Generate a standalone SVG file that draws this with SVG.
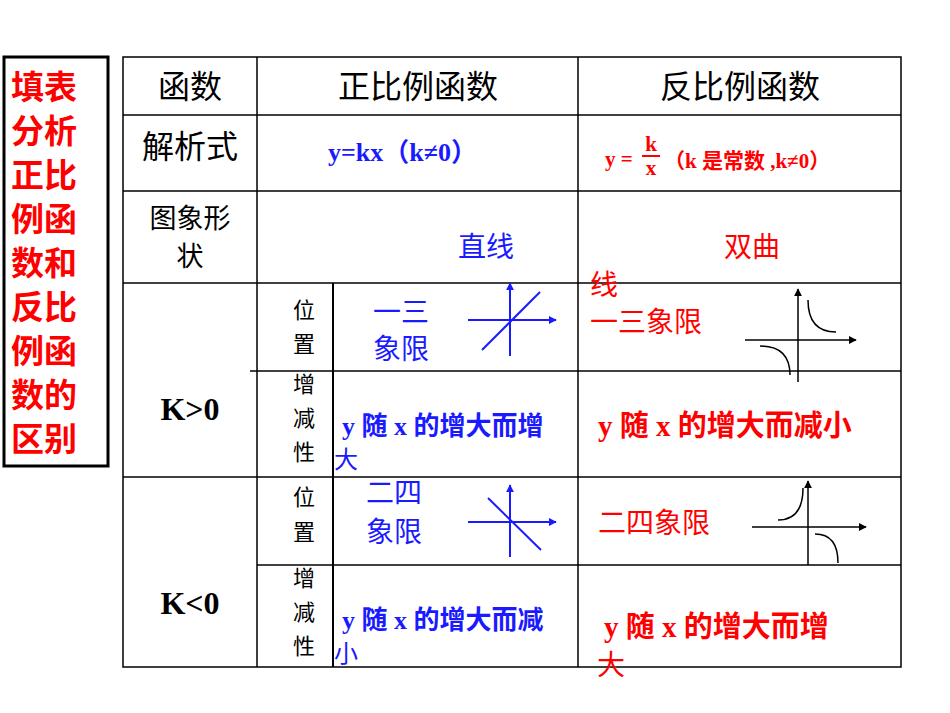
<svg xmlns="http://www.w3.org/2000/svg" width="950" height="713" viewBox="0 0 950 713">
<style>
.g{stroke:#000;stroke-width:1.5;fill:none}
.t{font-family:"Liberation Serif","Noto Sans CJK SC",serif;font-weight:bold}
.c{font-family:"Noto Sans CJK SC",sans-serif}
.r{fill:#f00}.b{fill:#1a1aff}
.bl{stroke:#1a1aff;stroke-width:2;fill:none}
.k{stroke:#000;stroke-width:1.5;fill:none}
</style>
<defs>
<marker id="ab" viewBox="0 0 10 10" refX="9" refY="5" markerWidth="8" markerHeight="8" markerUnits="userSpaceOnUse" orient="auto"><path d="M0,0L10,5L0,10z" fill="#1a1aff"/></marker>
<marker id="ak" viewBox="0 0 10 10" refX="9" refY="5" markerWidth="8" markerHeight="8" markerUnits="userSpaceOnUse" orient="auto"><path d="M0,0L10,5L0,10z" fill="#000"/></marker>
</defs>
<rect width="950" height="713" fill="#fff"/>
<g id="side">
<rect x="4" y="57" width="104" height="409" fill="none" stroke="#000" stroke-width="3"/>
<g class="c r" font-size="33" font-weight="bold">
<text x="11" y="99">填表</text>
<text x="11" y="143">分析</text>
<text x="11" y="187">正比</text>
<text x="11" y="231">例函</text>
<text x="11" y="275">数和</text>
<text x="11" y="319">反比</text>
<text x="11" y="363">例函</text>
<text x="11" y="407">数的</text>
<text x="11" y="451">区别</text>
</g>
</g>
<g id="grid" class="g">
<rect x="123" y="57" width="778" height="610"/>
<line x1="123" y1="115" x2="901" y2="115"/>
<line x1="123" y1="191" x2="901" y2="191"/>
<line x1="123" y1="283" x2="901" y2="283"/>
<line x1="123" y1="477" x2="901" y2="477"/>
<line x1="250" y1="371" x2="901" y2="371"/>
<line x1="257" y1="565" x2="901" y2="565"/>
<line x1="257" y1="57" x2="257" y2="667"/>
<line x1="578" y1="57" x2="578" y2="667"/>
<line x1="333" y1="283" x2="333" y2="667" stroke-width="2"/>
</g>
<g id="headers">
<text class="c" font-size="32" x="190" y="98" text-anchor="middle">函数</text>
<text class="c" font-size="32" x="418" y="98" text-anchor="middle">正比例函数</text>
<text class="c" font-size="32" x="740" y="98" text-anchor="middle">反比例函数</text>
<text class="c" font-size="32" x="190" y="158" text-anchor="middle">解析式</text>
<text class="c" font-size="27" x="190" y="228" text-anchor="middle">图象形</text>
<text class="c" font-size="27" x="190" y="266" text-anchor="middle">状</text>
<text class="t" font-size="32" x="190" y="420" text-anchor="middle">K&gt;0</text>
<text class="t" font-size="32" x="190" y="614" text-anchor="middle">K&lt;0</text>
<g class="c" font-size="22" text-anchor="middle">
<text x="304" y="318">位</text><text x="304" y="352">置</text>
<text x="304" y="392">增</text><text x="304" y="426">减</text><text x="304" y="460">性</text>
<text x="304" y="505">位</text><text x="304" y="540">置</text>
<text x="304" y="586">增</text><text x="304" y="620">减</text><text x="304" y="654">性</text>
</g>
</g>
<g id="formulas">
<text class="t b" font-size="26" x="328" y="161">y=kx（k≠0）</text>
<text class="t r" font-size="21" x="605" y="166">y =</text>
<text class="t r" font-size="21" x="651" y="151" text-anchor="middle">k</text>
<line x1="642" y1="156" x2="660" y2="156" stroke="#f00" stroke-width="2"/>
<text class="t r" font-size="21" x="651" y="175" text-anchor="middle">x</text>
<text class="t r" font-size="21" x="664" y="168">（k 是常数 ,k≠0）</text>
</g>
<g id="shape">
<text class="c b" font-size="28" x="458" y="257">直线</text>
<text class="c r" font-size="28" x="724" y="257">双曲</text>
<text class="c r" font-size="28" x="590" y="295">线</text>
</g>
<g id="texts">
<text class="c b" font-size="28" x="373" y="322">一三</text>
<text class="c b" font-size="28" x="373" y="359">象限</text>
<text class="c r" font-size="28" x="590" y="332">一三象限</text>
<text class="t b" font-size="26" x="342" y="435">y 随 x 的增大而增</text>
<text class="c b" font-size="24" x="334" y="468">大</text>
<text class="t r" font-size="29" x="598" y="436">y 随 x 的增大而减小</text>
<text class="c b" font-size="28" x="366" y="503">二四</text>
<text class="c b" font-size="28" x="366" y="542">象限</text>
<text class="c r" font-size="28" x="598" y="533">二四象限</text>
<text class="t b" font-size="26" x="342" y="629">y 随 x 的增大而减</text>
<text class="c b" font-size="24" x="334" y="662">小</text>
<text class="t r" font-size="29" x="604" y="637">y 随 x 的增大而增</text>
<text class="c r" font-size="28" x="597" y="675">大</text>
</g>
<g id="graphs">
<line class="bl" x1="468" y1="320" x2="556" y2="320" marker-end="url(#ab)"/>
<line class="bl" x1="510" y1="356" x2="510" y2="283" marker-end="url(#ab)"/>
<line class="bl" x1="482" y1="350" x2="540" y2="292"/>
<line class="bl" x1="468" y1="522" x2="556" y2="522" marker-end="url(#ab)"/>
<line class="bl" x1="510" y1="557" x2="510" y2="485" marker-end="url(#ab)"/>
<line class="bl" x1="488" y1="498" x2="541" y2="550"/>
<line class="k" x1="745" y1="340" x2="856" y2="340" marker-end="url(#ak)"/>
<line class="k" x1="798" y1="382" x2="798" y2="289" marker-end="url(#ak)"/>
<path class="k" d="M808,300 Q808,332 836,332"/>
<path class="k" d="M760,346 Q790,346 790,375"/>
<line class="k" x1="752" y1="527" x2="866" y2="527" marker-end="url(#ak)"/>
<line class="k" x1="808" y1="565" x2="808" y2="481" marker-end="url(#ak)"/>
<path class="k" d="M778,520 Q803,520 803,488"/>
<path class="k" d="M815,534 Q838,534 838,563"/>
</g>
</svg>
